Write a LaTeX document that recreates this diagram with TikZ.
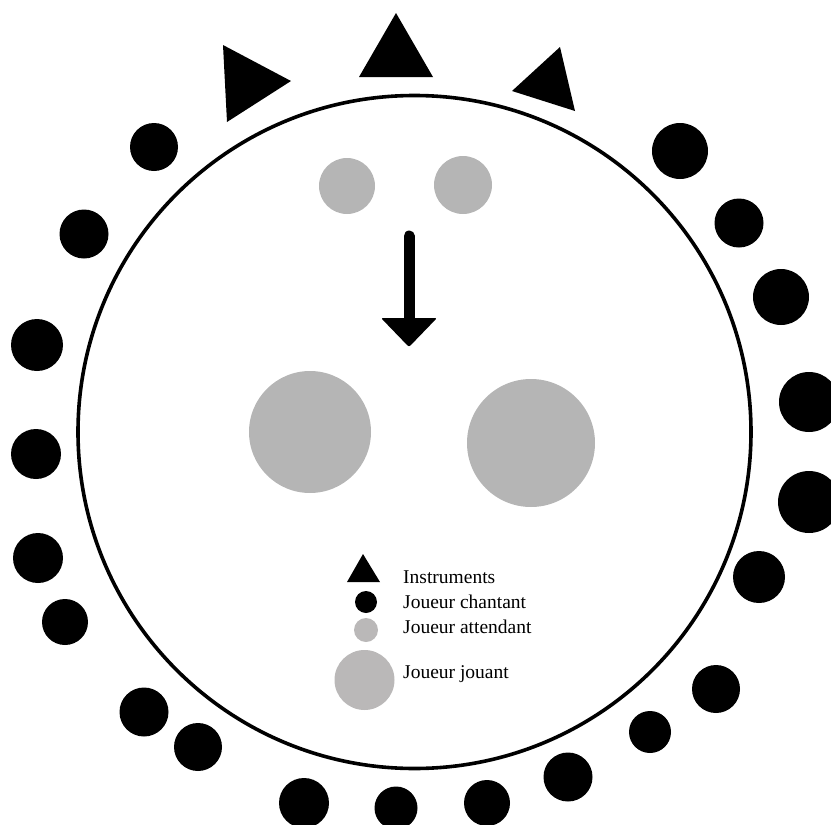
\documentclass[tikz,border=0pt]{standalone}
\usepackage{fontspec}
\setmainfont{Liberation Serif}
\definecolor{waitgray}{RGB}{181,181,181}
\definecolor{playgray}{RGB}{186,184,184}
\begin{document}
\begin{tikzpicture}[x=1pt,y=-1pt,
  singer/.style={circle,fill=black,inner sep=0pt,minimum size=#1},
  player/.style={circle,fill=waitgray,inner sep=0pt,minimum size=#1},
  legplayer/.style={circle,fill=playgray,inner sep=0pt,minimum size=#1},
  instr/.style={fill=black},
  legtext/.style={anchor=base west,font=\fontsize{19.5}{23}\selectfont,inner sep=0pt}]
\useasboundingbox (0,0) rectangle (831,825);
% main ring
\node[circle,draw=black,line width=3.6pt,minimum size=673pt,inner sep=0pt] (ring) at (414.5,432) {};
% instruments
\fill[instr] (223,45) -- (291,81) -- (227,122) -- cycle;
\fill[instr] (396,13) -- (359,77) -- (433,77) -- cycle;
\fill[instr] (560,47) -- (512,91) -- (575,111) -- cycle;
% singing players around the ring
\node[singer=48pt] (s1) at (154,147) {};
\node[singer=49pt] (s2) at (84,234) {};
\node[singer=52pt] (s3) at (37,345) {};
\node[singer=50pt] (s4) at (36,454) {};
\node[singer=50pt] (s5) at (38,558) {};
\node[singer=46pt] (s6) at (65,622) {};
\node[singer=49pt] (s7) at (144,712) {};
\node[singer=48pt] (s8) at (198,747) {};
\node[singer=50pt] (s9) at (304,803) {};
\node[singer=43pt] (s10) at (396,808) {};
\node[singer=46pt] (s11) at (487,803) {};
\node[singer=49pt] (s12) at (568,777) {};
\node[singer=42pt] (s13) at (650,732) {};
\node[singer=48pt] (s14) at (716,689) {};
\node[singer=52pt] (s15) at (759,577) {};
\node[singer=62pt] (s16) at (809,502) {};
\node[singer=60pt] (s17) at (809,402) {};
\node[singer=56pt] (s18) at (781,297) {};
\node[singer=49pt] (s19) at (739,223) {};
\node[singer=56pt] (s20) at (680,151) {};
% waiting players
\node[player=56pt] (w1) at (347,186) {};
\node[player=58pt] (w2) at (463,185) {};
% playing players
\node[player=122pt] (p1) at (310,432) {};
\node[player=128pt] (p2) at (531,443) {};
% arrow
\coordinate (atop) at (409,236);
\coordinate (abot) at (409,322);
\draw[line width=11pt,line cap=round] (atop) -- (abot);
\fill[rounded corners=2pt] (381,318) -- (437,318) -- (409,347) -- cycle;
% legend
\fill[instr] (363,554) -- (380,582) -- (347,582) -- cycle;
\node[singer=22pt] (lsing) at (366,602) {};
\node[legplayer=24pt] (lwait) at (366,630) {};
\node[legplayer=60pt] (lplay) at (364.5,680) {};
\node[legtext] (t1) at (403,583) {Instruments};
\node[legtext] (t2) at (403,608) {Joueur chantant};
\node[legtext] (t3) at (403,633) {Joueur attendant};
\node[legtext] (t4) at (403,678) {Joueur jouant};
\end{tikzpicture}
\end{document}
